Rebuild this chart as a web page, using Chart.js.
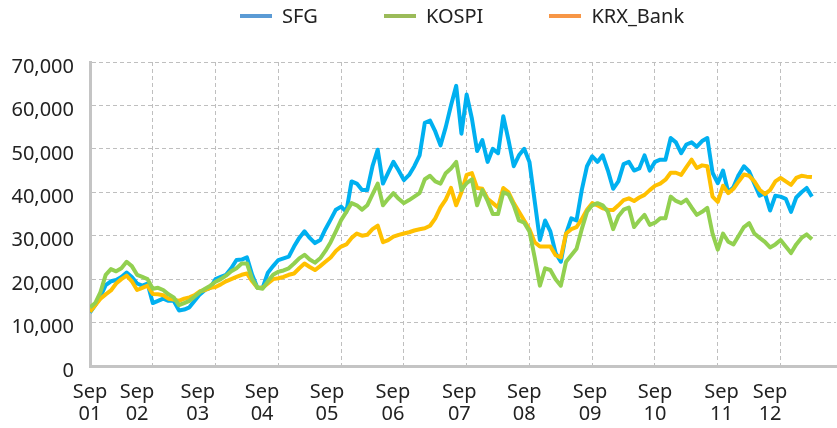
<!DOCTYPE html>
<html>
<head>
<meta charset="utf-8">
<script src="https://cdn.jsdelivr.net/npm/chart.js@4.4.1/dist/chart.umd.min.js"></script>
<style>
  body { margin: 0; background: #fff; }
  .wrap { position: relative; width: 837px; height: 428px; }
  .legend { position: absolute; top: 2px; left: 240px; display: flex; align-items: center;
            font-family: "Noto Sans", sans-serif; font-size: 20px; color: #222; }
  .legend .item { display: flex; align-items: center; margin-right: 66px; }
  .legend .swatch { width: 32px; height: 4px; margin-right: 10px; }
</style>
</head>
<body>
<div class="wrap">
  <canvas id="grafico"></canvas>
  <div class="legend" id="legenda"></div>
</div>
<script>
// monthly readings, Sep 2001 -> Mar 2013
const sfg = [
  12300, 14000, 16000, 18600, 19500, 19800, 20500, 21500, 20500, 19000,
  18500, 19000, 14500, 15000, 15500, 15000, 15000, 12800, 13000, 13500,
  15000, 16500, 17500, 18000, 20000, 20500, 21000, 22500, 24400, 24500,
  25000, 21000, 18000, 18000, 21500, 23000, 24400, 24800, 25200, 27500,
  29500, 31000, 29500, 28300, 29000, 31500, 33700, 36000, 36700, 35500,
  42500, 42000, 40500, 40500, 46000, 49800, 42000, 44500, 47000, 45000,
  42800, 44000, 46000, 48500, 56000, 56500, 54000, 50800, 55000, 60000,
  64500, 53500, 62500, 57000, 49500, 52000, 47000, 50000, 49000, 57500,
  52000, 46000, 48500, 50000, 47000, 38000, 29000, 33500, 31000, 26000,
  24000, 30500, 34000, 33500, 40500, 46000, 48300, 47000, 48500, 45000,
  40800, 42500, 46500, 47000, 45000, 45500, 48500, 45000, 47000, 47500,
  47500, 52500, 51500, 49000, 51000, 51500, 50500, 51800, 52500, 44500,
  42100, 45000, 40000, 41200, 44000, 46000, 44800, 42000, 39200, 39800,
  35800, 39200, 39000, 38500, 35500, 38800, 40000, 41000, 39000
];
const kospi = [
  13500, 14500, 17000, 21000, 22300, 21800, 22500, 24000, 23000, 21000,
  20500, 20000, 17800, 18000, 17500, 16500, 15800, 14000, 14500, 15000,
  16000, 17000, 17800, 18500, 19400, 20000, 20800, 21800, 22500, 23600,
  23600, 20000, 18000, 17800, 19500, 21000, 21700, 22000, 22500, 23600,
  24800, 25600, 24500, 23800, 24800, 26500, 28500, 31000, 33600, 35500,
  37500, 37000, 36000, 37000, 39500, 42000, 37000, 38500, 39800, 38500,
  37500, 38200, 39000, 39800, 43000, 43800, 42500, 42000, 44400, 45500,
  47000, 40500, 42100, 43000, 37000, 40500, 38000, 35000, 35000, 40000,
  39500, 37000, 33500, 33000, 31000, 25000, 18500, 22500, 22100, 20000,
  18500, 24000, 25500, 27000, 31500, 35500, 37000, 37500, 37000, 35500,
  31500, 34500, 36000, 36500, 32000, 33500, 34800, 32500, 33000, 34000,
  34000, 39000, 38000, 37500, 38300, 36500, 34800, 35500, 36400, 30500,
  26800, 30500, 28600, 28000, 30000, 32000, 32900, 30500, 29500, 28600,
  27300, 28000, 29000, 27500, 26000, 28000, 29500, 30300, 29200
];
const krxBank = [
  12500, 14000, 15500, 16500, 17400, 19000, 20000, 20800, 19500, 17500,
  18000, 18500, 16600, 16500, 16300, 15500, 15300, 15000, 15500, 15800,
  16300, 17200, 17500, 18000, 18200, 18800, 19500, 20000, 20500, 21000,
  21300, 19500, 18000, 18000, 19000, 20000, 20200, 20500, 21000, 21300,
  22500, 23600, 22800, 22100, 23000, 24000, 25000, 26500, 27500, 28000,
  29500, 30500, 30000, 30200, 31500, 32300, 28500, 29000, 29800, 30200,
  30500, 30800, 31200, 31500, 31700, 32300, 34000, 36500, 38300, 41000,
  37000, 40000, 44000, 44400, 41000, 40800, 38500, 37500, 36500, 41000,
  40000, 37500, 35500, 33500, 31500, 28500, 27500, 27500, 27500, 25500,
  25000, 30500, 31500, 32000, 33800, 36000, 37500, 37000, 36300, 36000,
  35900, 37000, 38200, 38600, 38000, 38800, 39400, 40500, 41500, 42000,
  42900, 44500, 44500, 44000, 45800, 47500, 45600, 46200, 46000, 39000,
  37800, 41500, 39800, 40800, 42500, 44100, 43800, 42500, 40600, 39600,
  40500, 42500, 43300, 42500, 41700, 43300, 43800, 43600, 43500
];
const anos = ['01', '02', '03', '04', '05', '06', '07', '08', '09', '10', '11', '12'];

// month index since Sep 2001
const meses = sfg.map((v, i) => i);

const series = [
  { nome: 'SFG', dados: sfg, cor: '#00B0F0', legenda: '#5B9BD5', ordem: 3 },
  { nome: 'KOSPI', dados: kospi, cor: '#92D050', legenda: '#9BBB59', ordem: 1 },
  { nome: 'KRX_Bank', dados: krxBank, cor: '#FFC000', legenda: '#F79646', ordem: 2 }
];

// where the "Sep yy" labels sit, and yearly grid lines (months)
const posRotulos = [0, 9, 20.6, 32.9, 45.3, 57.9, 70.6, 83, 95.6, 108, 120.7, 130];
const posGrade = [12, 24, 36, 48, 60, 72, 84, 96, 108, 120, 132];
const xMax = 142.6;

Chart.defaults.font.family = '"Noto Sans", sans-serif';
Chart.defaults.color = '#222';

const legenda = document.getElementById('legenda');
series.forEach(s => {
    const item = document.createElement('div');
    item.className = 'item';
    item.innerHTML = '<span class="swatch" style="background:' + s.legenda + '"></span>' + s.nome;
    legenda.appendChild(item);
});

new Chart(document.getElementById('grafico'), {
    type: 'line',
    data: {
        labels: meses,
        datasets: series.map(s => ({
            label: s.nome,
            data: s.dados,
            borderColor: s.cor,
            backgroundColor: s.cor,
            borderWidth: 4,
            pointRadius: 0,
            tension: 0,
            borderJoinStyle: 'round',
            order: s.ordem
        }))
    },
    options: {
        responsive: true,
        maintainAspectRatio: false,
        animation: false,
        layout: { padding: { top: 62, right: 1, left: 0, bottom: 0 } },
        plugins: {
            legend: { display: false },
            tooltip: { enabled: false }
        },
        scales: {
            x: {
                type: 'linear',
                min: 0,
                max: xMax,
                afterBuildTicks: s => { s.ticks = posGrade.map(v => ({ value: v })); },
                afterFit: s => { s.height = 1; },
                ticks: { display: false },
                grid: { color: '#BFBFBF', lineWidth: 1, drawTicks: false },
                border: { color: '#C4C4C4', width: 3, dash: [4, 3] }
            },
            xRotulos: {
                type: 'linear',
                position: 'bottom',
                min: 0,
                max: xMax,
                afterBuildTicks: s => { s.ticks = posRotulos.map(v => ({ value: v })); },
                afterFit: s => { s.height = 61; },
                grid: { display: false, drawTicks: false },
                border: { display: false },
                ticks: {
                    autoSkip: false,
                    maxRotation: 0,
                    padding: 14,
                    font: { size: 20, lineHeight: 1.1 },
                    callback: (v, i) => ['Sep', anos[i]]
                }
            },
            y: {
                min: 0,
                max: 70000,
                afterFit: s => { s.width = 90; },
                ticks: {
                    stepSize: 10000,
                    padding: 16,
                    labelOffset: 5,
                    font: { size: 20 },
                    callback: v => v.toLocaleString('en-US')
                },
                grid: { color: '#BFBFBF', lineWidth: 1, drawTicks: false },
                border: { color: '#C4C4C4', width: 3, dash: [4, 3] }
            }
        }
    }
});
</script>
</body>
</html>
